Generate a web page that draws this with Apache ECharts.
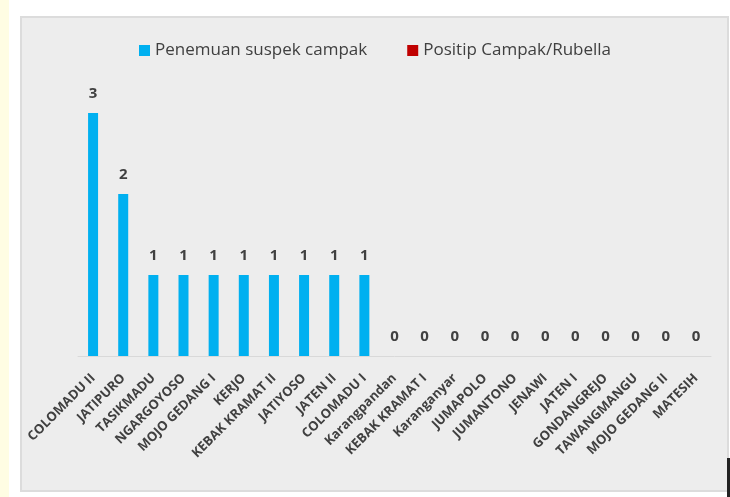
<!DOCTYPE html>
<html>
<head>
<meta charset="utf-8">
<script src="https://cdn.jsdelivr.net/npm/echarts@6/dist/echarts.min.js"></script>
<style>
  html, body { margin: 0; padding: 0; background: #ffffff; }
  #chart { width: 730px; height: 497px; }
</style>
</head>
<body>
<div id="chart"></div>
<script>
var categories = [
    'COLOMADU II', 'JATIPURO', 'TASIKMADU', 'NGARGOYOSO', 'MOJO GEDANG I',
    'KERJO', 'KEBAK KRAMAT II', 'JATIYOSO', 'JATEN II', 'COLOMADU I',
    'Karangpandan', 'KEBAK KRAMAT I', 'Karanganyar', 'JUMAPOLO', 'JUMANTONO',
    'JENAWI', 'JATEN I', 'GONDANGREJO', 'TAWANGMANGU', 'MOJO GEDANG II', 'MATESIH'
];
var suspekCampak = [3, 2, 1, 1, 1, 1, 1, 1, 1, 1, 0, 0, 0, 0, 0, 0, 0, 0, 0, 0, 0];
var positipCampak = [0, 0, 0, 0, 0, 0, 0, 0, 0, 0, 0, 0, 0, 0, 0, 0, 0, 0, 0, 0, 0];

var myChart = echarts.init(document.getElementById('chart'));

myChart.setOption({
    backgroundColor: '#ffffff',
    textStyle: { fontFamily: 'Open Sans' },
    graphic: [
        // strip kuning di kiri
        { type: 'rect', left: 0, top: 0, z: -10, shape: { width: 9, height: 497 }, style: { fill: '#FFFDE3' } },
        // kotak abu-abu area chart
        { type: 'rect', left: 20, top: 16, z: -10, shape: { width: 707, height: 474 },
          style: { fill: '#EDEDED', stroke: '#DCDCDC', lineWidth: 2 } },
        // garis hitam di kanan bawah
        { type: 'rect', left: 727, top: 458, z: -5, shape: { width: 3, height: 39 }, style: { fill: '#222222' } }
    ],
    legend: {
        left: 134,
        top: 37,
        itemWidth: 11,
        itemHeight: 11,
        itemGap: 40,
        icon: 'rect',
        textStyle: { fontSize: 17, color: '#404040' },
        data: ['Penemuan suspek campak', 'Positip Campak/Rubella']
    },
    grid: { left: 78, right: 19, top: 113, bottom: 141 },
    xAxis: {
        type: 'category',
        data: categories,
        axisLine: { lineStyle: { color: '#D9D9D9' } },
        axisTick: { show: false },
        axisLabel: {
            interval: 0,
            rotate: 45,
            margin: 20,
            fontSize: 13,
            fontWeight: 'bold',
            color: '#404040'
        }
    },
    yAxis: {
        type: 'value',
        min: 0,
        max: 3,
        show: false
    },
    series: [
        {
            name: 'Penemuan suspek campak',
            type: 'bar',
            data: suspekCampak,
            barWidth: 10,
            barGap: '-100%',
            itemStyle: { color: '#00B0F0' },
            label: {
                show: true,
                position: 'top',
                distance: 12,
                fontSize: 15,
                fontWeight: 'bold',
                color: '#404040'
            }
        },
        {
            name: 'Positip Campak/Rubella',
            type: 'bar',
            data: positipCampak,
            barWidth: 10,
            itemStyle: { color: '#C00000' }
        }
    ]
});
</script>
</body>
</html>
